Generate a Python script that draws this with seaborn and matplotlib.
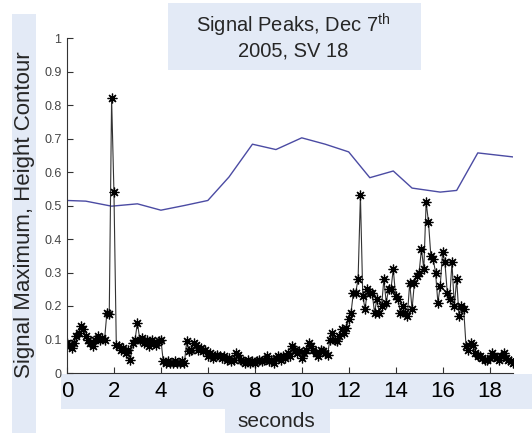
import numpy as np
import pandas as pd
import matplotlib
matplotlib.use("Agg")
import matplotlib.pyplot as plt
import seaborn as sns
from matplotlib.patches import Rectangle

# ---------------- data ----------------
# signal maximum peaks, sampled every 0.1 s from 0 to 19 s
peak_values = [
    0.09, 0.085, 0.075, 0.09, 0.11, 0.12, 0.14, 0.13, 0.11, 0.10,
    0.09, 0.08, 0.10, 0.11, 0.10, 0.105, 0.10, 0.18, 0.175, 0.82,
    0.54, 0.085, 0.08, 0.07, 0.075, 0.06, 0.07, 0.04, 0.09, 0.10,
    0.15, 0.10, 0.105, 0.09, 0.10, 0.08, 0.10, 0.09, 0.085, 0.095,
    0.10, 0.035, 0.03, 0.035, 0.03, 0.03, 0.035, 0.03, 0.03, 0.035,
    0.03, 0.095, 0.065, 0.07, 0.09, 0.085, 0.07, 0.075, 0.065, 0.07,
    0.05, 0.06, 0.045, 0.05, 0.055, 0.05, 0.045, 0.05, 0.04, 0.045,
    0.035, 0.04, 0.06, 0.055, 0.04, 0.035, 0.03, 0.04, 0.03, 0.035,
    0.03, 0.035, 0.04, 0.035, 0.04, 0.05, 0.035, 0.04, 0.03, 0.045,
    0.05, 0.04, 0.05, 0.045, 0.06, 0.05, 0.08, 0.07, 0.06, 0.065,
    0.045, 0.06, 0.07, 0.09, 0.08, 0.07, 0.06, 0.05, 0.07, 0.065,
    0.06, 0.055, 0.10, 0.12, 0.10, 0.095, 0.11, 0.13, 0.12, 0.135,
    0.16, 0.18, 0.24, 0.24, 0.28, 0.53, 0.23, 0.19, 0.25, 0.24,
    0.24, 0.18, 0.22, 0.18, 0.20, 0.28, 0.21, 0.25, 0.25, 0.31,
    0.23, 0.22, 0.18, 0.20, 0.18, 0.17, 0.27, 0.19, 0.27, 0.29,
    0.30, 0.37, 0.31, 0.51, 0.45, 0.35, 0.34, 0.30, 0.21, 0.26,
    0.36, 0.33, 0.24, 0.22, 0.33, 0.20, 0.28, 0.17, 0.20, 0.19,
    0.08, 0.07, 0.09, 0.085, 0.06, 0.05, 0.05, 0.045, 0.04, 0.04,
    0.045, 0.06, 0.05, 0.045, 0.04, 0.05, 0.06, 0.045, 0.04, 0.035,
    0.03,
]
peak_times = np.round(np.arange(len(peak_values)) * 0.1, 1)

# height contour (blue line)
contour_times = [0.0, 0.8, 1.9, 3.0, 4.0, 5.0, 6.0, 6.9, 7.9, 8.9, 10.0,
                 11.0, 12.0, 12.9, 13.9, 14.7, 15.9, 16.6, 17.5, 19.0]
contour_values = [0.515, 0.513, 0.498, 0.505, 0.486, 0.50, 0.515, 0.585,
                  0.683, 0.667, 0.702, 0.683, 0.66, 0.583, 0.603, 0.552,
                  0.54, 0.545, 0.657, 0.645]

x_ticks = [0, 2, 4, 6, 8, 10, 12, 14, 16, 18]
y_ticks = [0, 0.1, 0.2, 0.3, 0.4, 0.5, 0.6, 0.7, 0.8, 0.9, 1]
y_tick_labels = ["0", "0.1", "0.2", "0.3", "0.4", "0.5", "0.6", "0.7", "0.8", "0.9", "1"]

title_text = "Signal Peaks, Dec 7$^{\\mathrm{th}}$\n2005, SV 18"
y_label = "Signal Maximum, Height Contour"
x_label = "seconds"

# ---------------- style ----------------
sns.set_style("white")
plt.rcParams["font.family"] = ["Liberation Sans", "DejaVu Sans"]
plt.rcParams["mathtext.fontset"] = "custom"
plt.rcParams["mathtext.rm"] = "Liberation Sans"

box_color = "#e3eaf6"

fig = plt.figure(figsize=(5.32, 4.33), dpi=100, facecolor="white")
ax = fig.add_axes([67 / 532, 60 / 433, 446 / 532, 335 / 433])
ax.patch.set_visible(False)

# background boxes (drawn beneath the axes)
for (x0, y0, w, h) in [
    (168, 3, 253, 67),     # title box
    (12, 14, 24, 419),     # y label box
    (61, 374, 471, 35),    # x tick label box
    (225, 409, 105, 24),   # x label box
]:
    fig.add_artist(Rectangle((x0 / 532, 1 - (y0 + h) / 433), w / 532, h / 433,
                             transform=fig.transFigure, facecolor=box_color,
                             edgecolor="none", zorder=-5))

peaks_df = pd.DataFrame({"t": peak_times, "v": peak_values})
contour_df = pd.DataFrame({"t": contour_times, "v": contour_values})

sns.lineplot(data=contour_df, x="t", y="v", ax=ax, color="#4b4ba3",
             linewidth=1.0, estimator=None, sort=False)
sns.lineplot(data=peaks_df, x="t", y="v", ax=ax, color="#333333",
             linewidth=0.8, marker=(8, 2, 0), markersize=7,
             markerfacecolor="black", markeredgecolor="black",
             markeredgewidth=0.9, estimator=None, sort=False)

ax.set_xlim(0, 19)
ax.set_ylim(0, 1)
ax.set_xticks(x_ticks)
ax.set_xticklabels([str(t) for t in x_ticks], fontsize=16, color="black")
ax.set_yticks(y_ticks)
ax.set_yticklabels(y_tick_labels, fontsize=9, color="#444444")
ax.tick_params(axis="x", direction="in", length=4, width=0.8, pad=6,
               color="#333333", bottom=True)
ax.tick_params(axis="y", direction="in", length=4, width=0.8, pad=4,
               color="#333333", left=True)
for side in ["top", "right"]:
    ax.spines[side].set_visible(False)
for side in ["left", "bottom"]:
    ax.spines[side].set_color("#333333")
    ax.spines[side].set_linewidth(0.8)

ax.set_ylabel(y_label, fontsize=16, va="center")
ax.yaxis.set_label_coords((25 - 67) / 446, (373 - 215) / 335)
ax.set_xlabel(x_label, fontsize=15, va="center")
ax.xaxis.set_label_coords((276 - 67) / 446, (373 - 421.5) / 335)

fig.text(293 / 532, 1 - 36 / 433, title_text, ha="center", va="center",
         fontsize=14.5, linespacing=1.15)

fig.savefig("out.png", dpi=100, facecolor="white")
